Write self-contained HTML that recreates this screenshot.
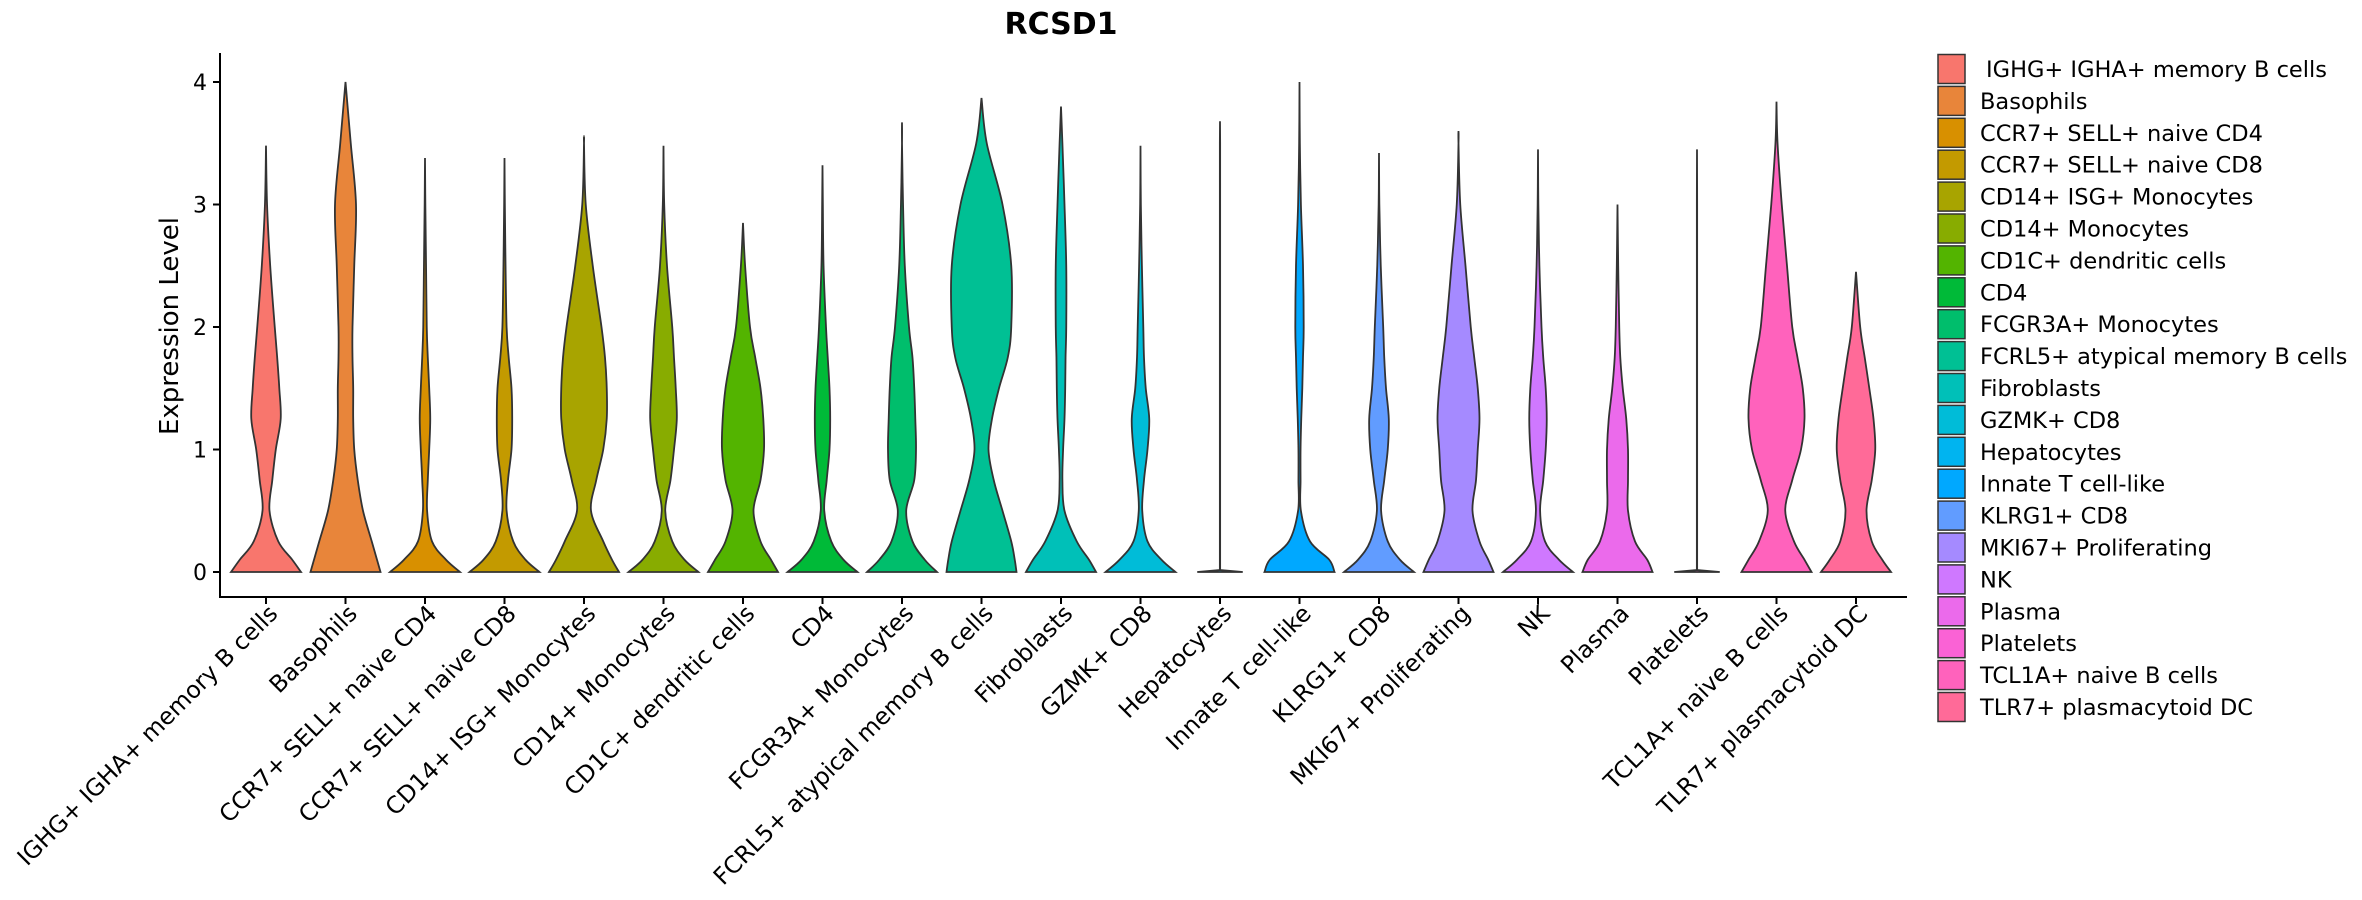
<!DOCTYPE html>
<html><head><meta charset="utf-8"><style>
html,body{margin:0;padding:0;background:#fff;}
svg{display:block;font-family:"DejaVu Sans","Liberation Sans",sans-serif;}
</style></head><body>
<svg id="chart" width="2362" height="900" viewBox="0 0 2362 900" xmlns="http://www.w3.org/2000/svg">
<text x="1061" y="34" text-anchor="middle" font-size="30" font-weight="bold">RCSD1</text>
<text transform="translate(178,326) rotate(-90)" text-anchor="middle" font-size="26">Expression Level</text>
<g id="plot"></g>
<g id="legend"></g>
</svg>
<script>
const categories = ["IGHG+ IGHA+ memory B cells","Basophils","CCR7+ SELL+ naive CD4","CCR7+ SELL+ naive CD8","CD14+ ISG+ Monocytes","CD14+ Monocytes","CD1C+ dendritic cells","CD4","FCGR3A+ Monocytes","FCRL5+ atypical memory B cells","Fibroblasts","GZMK+ CD8","Hepatocytes","Innate T cell-like","KLRG1+ CD8","MKI67+ Proliferating","NK","Plasma","Platelets","TCL1A+ naive B cells","TLR7+ plasmacytoid DC"];
const colors = ["#F8766D","#E8853A","#D89000","#C39A00","#A8A400","#88AC00","#53B400","#00BA38","#00BE6C","#00C094","#00C0B8","#00BCD8","#00B4F0","#00A8FF","#619CFF","#A58AFF","#CF78FF","#EB6AEB","#FA62D5","#FF62BC","#FF6A98"];
const maxValues = [3.48,4.0,3.38,3.38,3.55,3.48,2.85,3.32,3.67,3.87,3.8,3.48,3.68,4.0,3.42,3.6,3.45,3.0,3.45,3.84,2.45];
const densityGrid = [0,0.1,0.25,0.5,0.75,1,1.25,1.5,1.75,2,2.5,3,3.5,4];
const densities = [
[1.0,.75,.35,.1,.18,.28,.42,.38,.32,.25,.12,.03,0,0],
[1.0,.9,.75,.5,.35,.25,.22,.22,.2,.2,.25,.3,.15,0],
[1.0,.6,.2,.06,.08,.12,.15,.12,.08,.05,.03,.01,0,0],
[1.0,.6,.25,.06,.1,.2,.22,.2,.12,.06,.03,.01,0,0],
[1.0,.8,.55,.2,.35,.55,.65,.65,.6,.5,.25,.05,0,0],
[1.0,.6,.25,.05,.2,.3,.38,.35,.3,.25,.1,.02,0,0],
[1.0,.8,.5,.3,.5,.6,.58,.5,.35,.2,.06,0,0,0],
[1.0,.6,.25,.05,.12,.2,.22,.2,.15,.1,.03,.01,0,0],
[1.0,.65,.3,.12,.35,.4,.38,.35,.3,.2,.08,.03,0,0],
[1.0,.95,.85,.6,.35,.2,.3,.5,.75,.85,.85,.6,.15,0],
[1.0,.8,.45,.1,.04,.06,.1,.12,.13,.15,.15,.1,.04,0],
[1.0,.6,.2,.05,.1,.2,.25,.15,.1,.08,.04,.01,0,0],
[0.65,.004,.004,.004,.004,.004,.004,.004,.004,.004,.004,.004,.004,0],
[1.0,.85,.3,.04,.03,.03,.05,.08,.1,.12,.1,.04,.01,0],
[1.0,.6,.25,.06,.15,.25,.28,.2,.15,.12,.05,.01,0,0],
[1.0,.85,.6,.4,.5,.55,.6,.55,.45,.35,.2,.05,0,0],
[1.0,.6,.2,.06,.15,.22,.25,.22,.15,.1,.04,.01,0,0],
[1.0,.85,.5,.3,.3,.3,.25,.15,.08,.05,.02,0,0,0],
[0.65,.004,.004,.004,.004,.004,.004,.004,.004,.004,.004,.004,.004,0],
[1.0,.8,.5,.25,.45,.7,.8,.75,.6,.45,.3,.15,.03,0],
[1.0,.75,.45,.3,.45,.55,.5,.38,.25,.12,0,0,0,0]
];
const yTicks = [0,1,2,3,4];

const NS="http://www.w3.org/2000/svg";
const plot=document.getElementById('plot'), legend=document.getElementById('legend');
const x0=266, step=79.5, yZero=572, yUnit=122.5, halfMax=35;
const xScale=i=>x0+i*step;
const yScale=v=>yZero-v*yUnit;
function mk(tag,attrs,parent){const e=document.createElementNS(NS,tag);for(const k in attrs)e.setAttribute(k,attrs[k]);parent.appendChild(e);return e;}

const ya=mk('line',{x1:220,y1:53,x2:220,y2:597,stroke:'#000','stroke-width':2},plot);


const xa=mk('line',{x1:219,y1:597,x2:1907,y2:597,stroke:'#000','stroke-width':2},plot);


yTicks.forEach(t=>{
  const y=yScale(t);
  const tk=mk('line',{x1:213,y1:y,x2:220,y2:y,stroke:'#000','stroke-width':2},plot);
  
  
  const tl=mk('text',{x:207,y:y+8,'text-anchor':'end','font-size':22},plot);
  
  
  tl.textContent=t;
});

function smoothPath(pts){
  let d='';
  for(let i=0;i<pts.length-1;i++){
    const p0=pts[Math.max(0,i-1)],p1=pts[i],p2=pts[i+1],p3=pts[Math.min(pts.length-1,i+2)];
    const c1=[p1[0]+(p2[0]-p0[0])/6,p1[1]+(p2[1]-p0[1])/6];
    const c2=[p2[0]-(p3[0]-p1[0])/6,p2[1]-(p3[1]-p1[1])/6];
    d+=` C${c1[0].toFixed(2)},${c1[1].toFixed(2)} ${c2[0].toFixed(2)},${c2[1].toFixed(2)} ${p2[0].toFixed(2)},${p2[1].toFixed(2)}`;
  }
  return d;
}

categories.forEach((c,i)=>{
  const cx=xScale(i), mx=maxValues[i];
  const pts=[];
  densityGrid.forEach((g,j)=>{ if(g<mx) pts.push([g,densities[i][j]]); });
  pts.push([mx,0]);
  let d;
  const flat = pts[1][1] < 0.05;
  if(flat){
    const base=pts[0][1]*halfMax, y0=yScale(0), y1=yScale(0)-2;
    const w=pts[1][1]*halfMax;
    const rest=pts.slice(1);
    const right=rest.map(p=>[cx+p[1]*halfMax,yScale(p[0])]);
    right[0][1]=y1;
    const left=rest.slice().reverse().map(p=>[cx-p[1]*halfMax,yScale(p[0])]);
    left[left.length-1][1]=y1;
    d=`M${cx-base},${y0} L${cx+base},${y0} L${cx+w},${y1}`+smoothPath(right)+smoothPath(left)+' Z';
  } else {
    const right=pts.map(p=>[cx+p[1]*halfMax,yScale(p[0])]);
    const left=pts.slice().reverse().map(p=>[cx-p[1]*halfMax,yScale(p[0])]);
    d=`M${cx-pts[0][1]*halfMax},${yScale(0)} L${right[0][0]},${right[0][1]}`+smoothPath(right)+smoothPath(left)+' Z';
  }
  const v=mk('path',{d:d,fill:colors[i],stroke:'#333','stroke-width':1.8},plot);
  
  
  const tk=mk('line',{x1:cx,y1:597,x2:cx,y2:604,stroke:'#000','stroke-width':2},plot);
  
  
  const lb=mk('text',{transform:`translate(${cx+13},${615}) rotate(-45)`,'text-anchor':'end','font-size':23.5},plot);
  
  
  lb.textContent=c;

  const ly=69+i*31.9;
  const sw=mk('rect',{x:1938,y:ly-14.5,width:27,height:29,fill:colors[i],stroke:'#333','stroke-width':1.5},legend);
  
  
  const lt=mk('text',{x:(i===0?1986:1980),y:ly+8,'font-size':22.5},legend);
  
  
  lt.textContent=c;
});
</script>
</body></html>
